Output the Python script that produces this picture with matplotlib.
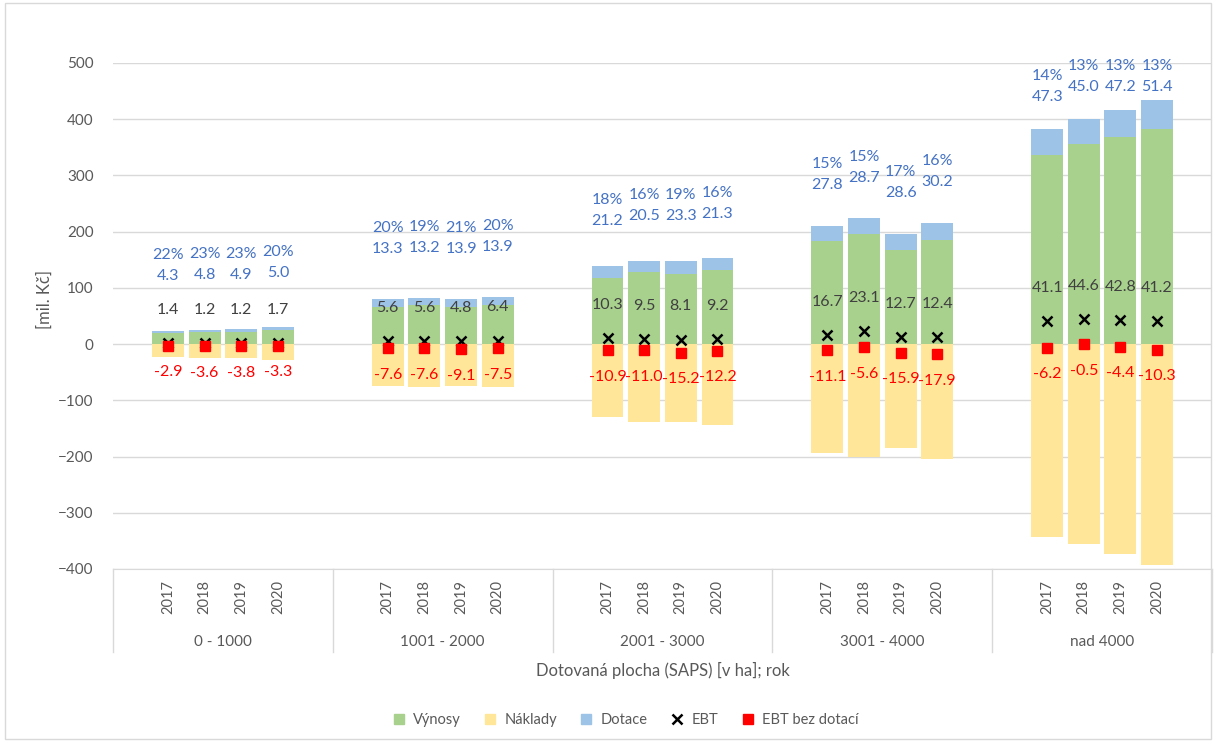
import matplotlib
matplotlib.use("Agg")
import matplotlib.pyplot as plt
import matplotlib.transforms as mtransforms
from matplotlib.lines import Line2D
from matplotlib.patches import Rectangle

plt.rcParams['font.family'] = ['Lato', 'DejaVu Sans']

# ========================== Data ==========================
groups = ['0 - 1000', '1001 - 2000', '2001 - 3000', '3001 - 4000', 'nad 4000']
years = ['2017', '2018', '2019', '2020']

vynosy = [[19.5, 20.9, 21.3, 25.0],
          [66.5, 69.5, 66.2, 69.5],
          [118.0, 128.0, 124.0, 131.0],
          [183.0, 195.0, 168.0, 186.0],
          [336.0, 356.0, 369.0, 382.0]]
dotace = [[4.3, 4.8, 4.9, 5.0],
          [13.3, 13.2, 13.9, 13.9],
          [21.2, 20.5, 23.3, 21.3],
          [27.8, 28.7, 28.6, 30.2],
          [47.3, 45.0, 47.2, 51.4]]
naklady = [[-22.4, -24.5, -25.0, -28.3],
           [-74.2, -77.1, -75.3, -77.0],
           [-128.9, -139.0, -139.2, -143.1],
           [-194.1, -200.6, -183.9, -203.8],
           [-342.2, -356.4, -373.4, -392.2]]
ebt = [[1.4, 1.2, 1.2, 1.7],
       [5.6, 5.6, 4.8, 6.4],
       [10.3, 9.5, 8.1, 9.2],
       [16.7, 23.1, 12.7, 12.4],
       [41.1, 44.6, 42.8, 41.2]]
ebt_bez = [[-2.9, -3.6, -3.8, -3.3],
           [-7.6, -7.6, -9.1, -7.5],
           [-10.9, -11.0, -15.2, -12.2],
           [-11.1, -5.6, -15.9, -17.9],
           [-6.2, -0.5, -4.4, -10.3]]
podil = [[22, 23, 23, 20],
         [20, 19, 21, 20],
         [18, 16, 19, 16],
         [15, 15, 17, 16],
         [14, 13, 13, 13]]

# ========================== Style ==========================
C_VYN = '#A9D18E'
C_NAK = '#FFE699'
C_DOT = '#9DC3E6'
C_BLUE_TXT = '#4472C4'
C_GRAY = '#595959'
C_GRID = '#D9D9D9'

W, H = 1216, 742
fig = plt.figure(figsize=(W / 100, H / 100), dpi=100)
ax = fig.add_axes([113 / W, (H - 569) / H, 1099 / W, (569 - 63) / H])

# 6 slots per group: blank, 4 years, blank
slots = 6
xs, xl = [], []
for g in range(len(groups)):
    for i in range(len(years)):
        xs.append(g * slots + 1.5 + i)
        xl.append(years[i])

flat = lambda a: [v for row in a for v in row]
vyn_f, dot_f, nak_f = flat(vynosy), flat(dotace), flat(naklady)
ebt_f, bez_f, pct_f = flat(ebt), flat(ebt_bez), flat(podil)

bw = 0.87
ax.bar(xs, vyn_f, bw, color=C_VYN, zorder=2)
ax.bar(xs, dot_f, bw, bottom=vyn_f, color=C_DOT, zorder=2)
ax.bar(xs, nak_f, bw, color=C_NAK, zorder=2)
ax.plot(xs, ebt_f, ls='none', marker='x', color='black', ms=7, mew=1.8, zorder=4)
ax.plot(xs, bez_f, ls='none', marker='s', color='#FF0000', ms=7, zorder=4)

# data labels
grp_offset = [97, 89, 80, 72, 56]
label_top = 458
for k, x in enumerate(xs):
    g = k // len(years)
    total = vyn_f[k] + dot_f[k]
    y = min(total + grp_offset[g], label_top)
    ax.text(x, y, f'{dot_f[k]:.1f}', ha='center', va='center', fontsize=11.5,
            color=C_BLUE_TXT, zorder=5, clip_on=False)
    ax.annotate(f'{pct_f[k]}%', (x, y), xytext=(0, 15), textcoords='offset points',
                ha='center', va='center', fontsize=11.5, color=C_BLUE_TXT,
                zorder=5, annotation_clip=False)
    ax.text(x, ebt_f[k] + 59, f'{ebt_f[k]:.1f}', ha='center', va='center',
            fontsize=11.5, color='#404040', zorder=5)
    ax.text(x, bez_f[k] - 47, f'{bez_f[k]:.1f}', ha='center', va='center',
            fontsize=11.5, color='#FF0000', zorder=5)

# axes
ax.set_ylim(-400, 500)
ax.set_xlim(0, slots * len(groups))
ax.set_yticks(range(-400, 501, 100))
ax.yaxis.grid(True, color=C_GRID, lw=1, zorder=0)
ax.tick_params(axis='y', length=0, pad=14, labelsize=11, labelcolor=C_GRAY)
for s in ['left', 'right', 'top']:
    ax.spines[s].set_visible(False)
ax.spines['bottom'].set_color(C_GRID)
ax.set_xticks(xs)
ax.set_xticklabels(xl, rotation=90, fontsize=10.5, color=C_GRAY)
ax.tick_params(axis='x', length=0, pad=8)

trans = mtransforms.blended_transform_factory(ax.transData, ax.transAxes)
for g in range(len(groups) + 1):
    ax.plot([g * slots, g * slots], [0, -0.164], transform=trans, color=C_GRID,
            lw=1, clip_on=False)
for g, name in enumerate(groups):
    ax.text(g * slots + slots / 2, -0.144, name, transform=trans, ha='center',
            va='center', fontsize=11, color=C_GRAY)

fig.text(0.5 * (113 + 1212) / W, 1 - 670 / H, 'Dotovaná plocha (SAPS) [v ha]; rok',
         ha='center', va='center', fontsize=12, color=C_GRAY)
fig.text(45 / W, 1 - 300 / H, '[mil. Kč]', rotation=90, ha='center', va='center',
         fontsize=12, color=C_GRAY)

handles = [
    Line2D([], [], ls='none', marker='s', ms=6.5, color=C_VYN),
    Line2D([], [], ls='none', marker='s', ms=6.5, color=C_NAK),
    Line2D([], [], ls='none', marker='s', ms=6.5, color=C_DOT),
    Line2D([], [], ls='none', marker='x', ms=6.5, mew=1.8, color='black'),
    Line2D([], [], ls='none', marker='s', ms=6.5, color='#FF0000'),
]
fig.legend(handles, ['Výnosy', 'Náklady', 'Dotace', 'EBT', 'EBT bez dotací'],
           loc='center', bbox_to_anchor=(0.511, 1 - 720 / H), ncol=5, frameon=False,
           fontsize=10.5, labelcolor=C_GRAY, handletextpad=0.0, columnspacing=1.0)

fig.add_artist(Rectangle((0.004, 0.004), 0.992, 0.992, transform=fig.transFigure,
                         fill=False, edgecolor=C_GRID, lw=1))

fig.savefig('out.png', dpi=100)
